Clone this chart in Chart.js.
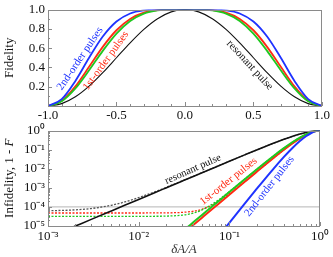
<!DOCTYPE html>
<html><head><meta charset="utf-8">
<script src="https://cdn.jsdelivr.net/npm/chart.js@4/dist/chart.umd.min.js"></script>
<style>
html,body{margin:0;padding:0;background:#fff;width:333px;height:257px;overflow:hidden}
#top{position:absolute;left:0;top:0}
#bot{position:absolute;left:0;top:121px}
</style></head><body>
<canvas id="top" width="333" height="122"></canvas>
<canvas id="bot" width="333" height="136"></canvas>
<script>
// ---------- top panel: fidelity vs amplitude error ----------
const amplitudeError = [-1.0,-0.9,-0.8,-0.7,-0.6,-0.5,-0.4,-0.3,-0.2,-0.1,0.0,0.1,0.2,0.3,0.4,0.5,0.6,0.7,0.8,0.9,1.0];
const fidResonant = [0,0.0245,0.0955,0.2061,0.3455,0.5,0.6545,0.7939,0.9045,0.9755,1,0.9755,0.9045,0.7939,0.6545,0.5,0.3455,0.2061,0.0955,0.0245,0];
const fidFirstRed = [0,0.0549,0.2037,0.4061,0.6131,0.785,0.9025,0.967,0.9932,0.9996,1,0.9996,0.9932,0.967,0.9025,0.785,0.6131,0.4061,0.2037,0.0549,0];
const fidFirstGreen = [0,0.0483,0.1819,0.3697,0.5716,0.75,0.8806,0.9575,0.9909,0.9994,1,0.9994,0.9909,0.9575,0.8806,0.75,0.5716,0.3697,0.1819,0.0483,0];
const fidSecond = [0,0.0716,0.26,0.4996,0.7196,0.875,0.9588,0.9912,0.9991,1,1,1,0.9991,0.9912,0.9588,0.875,0.7196,0.4996,0.26,0.0716,0];
const topXTicks = [-1,-0.5,0,0.5,1];
const topYTicks = [0.2,0.4,0.6,0.8,1.0];

// ---------- bottom panel: infidelity vs relative amplitude error ----------
const relError = [0.001,0.002,0.003,0.005,0.007,0.01,0.015,0.02,0.03,0.04,0.05,0.07,0.1,0.15,0.2,0.3,0.4,0.5,0.6,0.7,0.8,0.9,1.0];
const infResonant = [2.467e-6,9.87e-6,2.221e-5,6.169e-5,1.209e-4,2.467e-4,5.551e-4,9.866e-4,2.219e-3,3.943e-3,6.156e-3,1.204e-2,2.447e-2,5.45e-2,9.549e-2,0.2061,0.3455,0.5,0.6545,0.7939,0.9045,0.9755,1];
const infResonantDash = [6.25e-5,6.99e-5,8.22e-5,1.217e-4,1.809e-4,3.067e-4,6.151e-4,1.0466e-3,2.279e-3,4.003e-3,6.216e-3,1.21e-2,2.453e-2,5.456e-2,9.555e-2,0.2062,0.3456,0.5,0.6545,0.7939,0.9045,0.9755,1];
const infFirstRed = [4.39e-12,7.01e-11,3.55e-10,2.74e-9,1.053e-8,4.385e-8,2.218e-7,7.008e-7,3.548e-6,1.121e-5,2.735e-5,1.049e-4,4.354e-4,2.184e-3,6.81e-3,3.304e-2,9.749e-2,0.215,0.3869,0.5939,0.7963,0.9451,1];
const infFirstRedDash = [4.8e-5,4.8e-5,4.8e-5,4.8e-5,4.801e-5,4.804e-5,4.822e-5,4.87e-5,5.155e-5,5.921e-5,7.535e-5,1.529e-4,4.834e-4,2.232e-3,6.858e-3,3.309e-2,9.754e-2,0.215,0.3869,0.5939,0.7963,0.9451,1];
const infFirstGreen = [6.09e-12,9.74e-11,4.93e-10,3.805e-9,1.462e-8,6.09e-8,3.081e-7,9.73e-7,4.924e-6,1.554e-5,3.789e-5,1.45e-4,5.989e-4,2.97e-3,9.119e-3,4.248e-2,0.1194,0.25,0.4284,0.6303,0.8181,0.9517,1];
const infFirstGreenDash = [3.2e-5,3.2e-5,3.2e-5,3.2e-5,3.201e-5,3.206e-5,3.231e-5,3.297e-5,3.692e-5,4.754e-5,6.989e-5,1.77e-4,6.309e-4,3.002e-3,9.151e-3,4.251e-2,0.1194,0.25,0.4284,0.6303,0.8181,0.9517,1];
const infSecond = [1.5e-17,9.6e-16,1.1e-14,2.35e-13,1.77e-12,1.5e-11,1.71e-10,9.6e-10,1.093e-8,6.128e-8,2.33e-7,1.747e-6,1.466e-5,1.619e-4,8.708e-4,8.756e-3,4.124e-2,0.125,0.2804,0.5004,0.74,0.9284,1];
const thresholdLevel = 1e-4;
const botXTicks = [1e-3,1e-2,1e-1,1];
const botYTicks = [1e-5,1e-4,1e-3,1e-2,1e-1,1];

// ---------- styling ----------
const BLUE='#1f33ff', RED='#ff2b14', GREEN='#1fc81f', BLACK='#111111';
const SERIF='"Liberation Serif","Times New Roman",serif';
const SUP={'0':'\u2070','1':'\u00b9','2':'\u00b2','3':'\u00b3','4':'\u2074','5':'\u2075','-':'\u207b'};
const pow10Label = v => '10' + String(Math.round(Math.log10(v))).split('').map(c=>SUP[c]).join('');
const pairs = (xs, ys) => xs.map((x,i)=>({x, y:ys[i]}));

const framePlugin = {
  id:'frame',
  afterDatasetsDraw(chart, args, o){
    const {ctx, chartArea:a, scales} = chart;
    ctx.save();
    ctx.strokeStyle='#8a8a8a'; ctx.lineWidth=1;
    ctx.beginPath();
    const tick=(vals,len,axis)=>vals.forEach(v=>{
      if(axis==='x'){const p=Math.round(scales.x.getPixelForValue(v))+0.5; ctx.moveTo(p,a.bottom); ctx.lineTo(p,a.bottom-len);}
      else {const p=Math.round(scales.y.getPixelForValue(v))+0.5; ctx.moveTo(a.left,p); ctx.lineTo(a.left+len,p);}
    });
    tick(o.xMajor||[],4,'x'); tick(o.xMinor||[],2,'x');
    tick(o.yMajor||[],4,'y'); tick(o.yMinor||[],2,'y');
    ctx.stroke();
    ctx.strokeRect(Math.round(a.left)+0.5, Math.round(a.top)+0.5, Math.round(a.right-a.left)-1, Math.round(a.bottom-a.top)-1);
    ctx.restore();
  }
};
const notesPlugin = {
  id:'notes',
  afterDatasetsDraw(chart, args, o){
    const {ctx, scales} = chart;
    (o.items||[]).forEach(n=>{
      ctx.save();
      ctx.translate(scales.x.getPixelForValue(n.x), scales.y.getPixelForValue(n.y));
      ctx.rotate(n.angle*Math.PI/180);
      ctx.font = n.size+'px '+SERIF;
      ctx.fillStyle = n.color; ctx.textAlign='center'; ctx.textBaseline='middle';
      ctx.fillText(n.text,0,0);
      ctx.restore();
    });
    if (o.yTitle){
      const t=o.yTitle;
      ctx.save();
      const a=chart.chartArea;
      ctx.translate(t.x,(a.top+a.bottom)/2);
      ctx.rotate(-Math.PI/2);
      ctx.fillStyle='#111'; ctx.textBaseline='middle';
      const f1='13px '+SERIF, f2='italic 13px '+SERIF;
      ctx.font=f1; const w1=ctx.measureText(t.plain).width;
      ctx.font=f2; const w2=ctx.measureText(t.italic).width;
      let x0=-(w1+w2)/2;
      ctx.font=f1; ctx.textAlign='left'; ctx.fillText(t.plain,x0,0);
      ctx.font=f2; ctx.fillText(t.italic,x0+w1,0);
      ctx.restore();
    }
  }
};

const tickFont = {family:SERIF, size:13, lineHeight:1};
const range=(a,b,s)=>{const r=[];for(let v=a;v<=b+1e-9;v+=s)r.push(+v.toFixed(6));return r;};
const logMinor=(lo,hi)=>{const r=[];for(let e=lo;e<hi;e++)for(let k=2;k<=9;k++)r.push(k*Math.pow(10,e));return r;};

function line(data,color,width,dash,order){
  return {data, borderColor:color, borderWidth:width, borderDash:dash||[], pointRadius:0,
    cubicInterpolationMode:'monotone', fill:false, order};
}

new Chart(document.getElementById('top'), {
  type:'line',
  data:{datasets:[
    line(pairs(amplitudeError,fidResonant),BLACK,1.1,null,4),
    line(pairs(amplitudeError,fidFirstRed),RED,1.8,null,3),
    line(pairs(amplitudeError,fidFirstGreen),GREEN,1.8,null,2),
    line(pairs(amplitudeError,fidSecond),BLUE,1.8,null,1)
  ]},
  options:{
    responsive:false, animation:false, events:[],
    layout:{padding:{top:7,right:11,left:0,bottom:0}},
    plugins:{legend:{display:false}, tooltip:{enabled:false},
      frame:{xMajor:topXTicks, xMinor:range(-1,1,0.1), yMajor:topYTicks, yMinor:range(0.1,0.9,0.2)},
      notes:{items:[
        {text:'2nd-order pulses', x:-0.766, y:0.49, angle:-56, color:BLUE, size:11},
        {text:'1st-order pulses', x:-0.577, y:0.47, angle:-54, color:RED, size:11},
        {text:'resonant pulse', x:0.474, y:0.423, angle:47.5, color:BLACK, size:11}
      ]}
    },
    scales:{
      x:{type:'linear', min:-1, max:1, grid:{display:false, drawTicks:false}, border:{display:false},
        afterBuildTicks:ax=>{ax.ticks=topXTicks.map(v=>({value:v}));},
        afterFit:ax=>{ax.height=16;},
        ticks:{font:tickFont, color:'#111', padding:3, maxRotation:0, autoSkip:false, callback:v=>v.toFixed(1)}},
      y:{type:'linear', min:0, max:1, grid:{display:false, drawTicks:false}, border:{display:false},
        afterBuildTicks:ax=>{ax.ticks=topYTicks.map(v=>({value:v}));},
        afterFit:ax=>{ax.width=48;},
        title:{display:true, text:'Fidelity', color:'#111', font:{family:SERIF,size:13}, padding:{top:2,bottom:0}},
        ticks:{font:tickFont, color:'#111', padding:3, autoSkip:false, callback:v=>v.toFixed(1)}}
    }
  },
  plugins:[framePlugin, notesPlugin]
});

new Chart(document.getElementById('bot'), {
  type:'line',
  data:{datasets:[
    line(pairs([botXTicks[0],botXTicks[3]],[thresholdLevel,thresholdLevel]),'#b5b5b5',1,null,9),
    line(pairs(relError,infResonantDash),'#555555',1.3,[2,1.5],8),
    line(pairs(relError,infFirstRedDash),RED,1.3,[2,1.5],7),
    line(pairs(relError,infFirstGreenDash),GREEN,1.3,[2,1.5],6),
    line(pairs(relError,infResonant),BLACK,1.6,null,5),
    line(pairs(relError,infFirstRed),RED,2,null,4),
    line(pairs(relError,infFirstGreen),GREEN,2,null,3),
    line(pairs(relError,infSecond),BLUE,2,null,2)
  ]},
  options:{
    responsive:false, animation:false, events:[],
    layout:{padding:{top:9,right:11,left:0,bottom:0}},
    plugins:{legend:{display:false}, tooltip:{enabled:false},
      frame:{xMajor:botXTicks, xMinor:logMinor(-3,0), yMajor:botYTicks, yMinor:logMinor(-5,0)},
      notes:{items:[
        {text:'resonant pulse', x:0.0397, y:0.0093, angle:-24, color:BLACK, size:10.5},
        {text:'1st-order pulses', x:0.098, y:0.0022, angle:-38.5, color:RED, size:11},
        {text:'2nd-order pulses', x:0.277, y:0.0012, angle:-52, color:BLUE, size:11}
      ], yTitle:{x:10, plain:'Infidelity, 1 - ', italic:'F'}}
    },
    scales:{
      x:{type:'logarithmic', min:1e-3, max:1, grid:{display:false, drawTicks:false}, border:{display:false},
        afterBuildTicks:ax=>{ax.ticks=botXTicks.map(v=>({value:v}));},
        afterFit:ax=>{ax.height=31;},
        title:{display:true, text:'\u03b4A/A', color:'#333', font:{family:SERIF,size:13,style:'italic'}, padding:{top:0,bottom:0}},
        ticks:{font:tickFont, color:'#111', padding:4, maxRotation:0, autoSkip:false, callback:v=>pow10Label(v)}},
      y:{type:'logarithmic', min:1e-5, max:1, grid:{display:false, drawTicks:false}, border:{display:false},
        afterBuildTicks:ax=>{ax.ticks=botYTicks.map(v=>({value:v}));},
        afterFit:ax=>{ax.width=48;},
        ticks:{font:tickFont, color:'#111', padding:3, autoSkip:false, callback:v=>pow10Label(v)}}
    }
  },
  plugins:[framePlugin, notesPlugin]
});
</script>
</body></html>
